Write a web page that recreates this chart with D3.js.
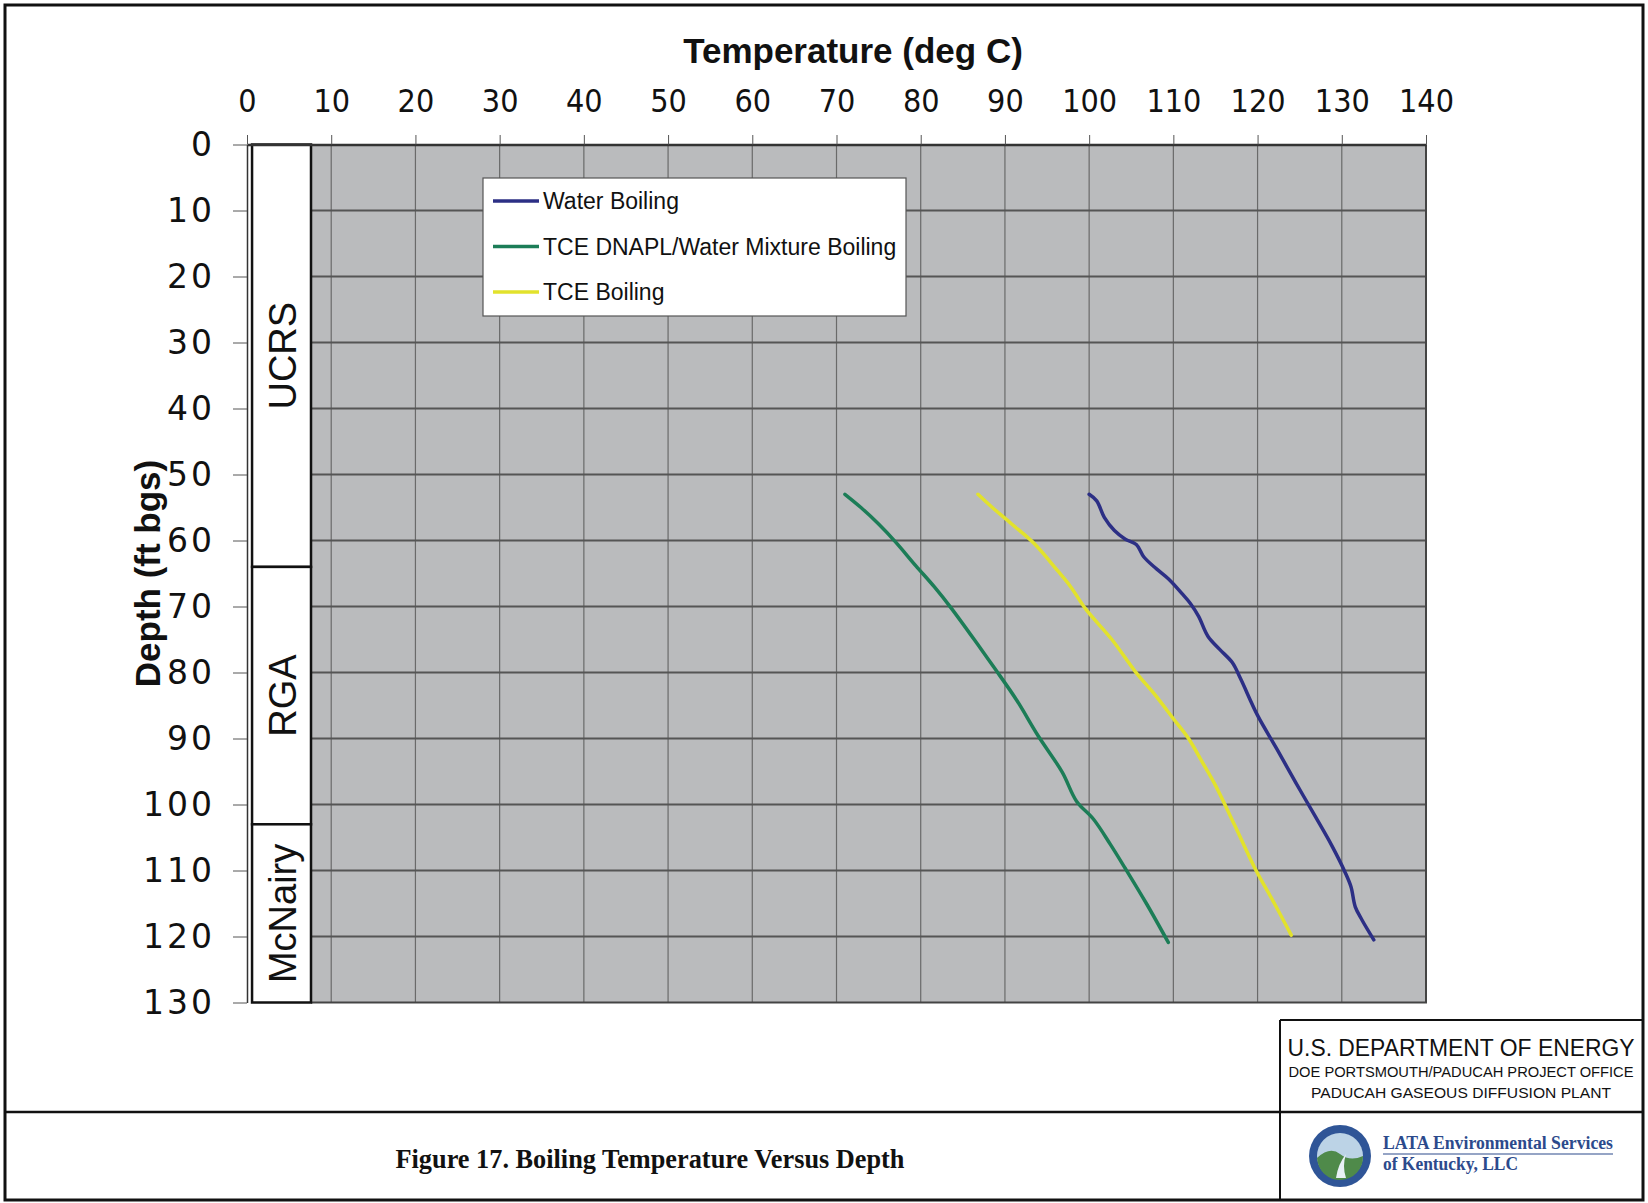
<!DOCTYPE html>
<html>
<head>
<meta charset="utf-8">
<script src="https://cdn.jsdelivr.net/npm/d3@7"></script>
<style>
  body { margin: 0; background: #fff; }
  svg { display: block; font-family: "Liberation Sans", Arial, sans-serif; }
</style>
</head>
<body>
<svg id="chart"></svg>
<script>
// ---- data ----
var tempTicks = [0, 10, 20, 30, 40, 50, 60, 70, 80, 90, 100, 110, 120, 130, 140];
var depthTicks = [0, 10, 20, 30, 40, 50, 60, 70, 80, 90, 100, 110, 120, 130];

var seriesNames = ["Water Boiling", "TCE DNAPL/Water Mixture Boiling", "TCE Boiling"];
var seriesColors = ["#2c2f85", "#1c7d57", "#e2e22c"];

// [temperature degC, depth ft bgs]
var waterBoiling = [[100.0,53],[100.9,54],[101.8,56.5],[103.0,58.5],[104.3,59.8],[105.6,60.6],
  [106.5,62.5],[108.0,64.3],[109.4,65.8],[111.0,68],[112.0,69.5],[113.0,71.5],[114.1,74.5],
  [115.5,76.5],[117.0,78.5],[118.0,81],[120.0,86.5],[122.3,91.6],[124.5,96.6],[126.8,101.7],
  [128.8,106.2],[130.4,110.3],[131.1,112.5],[131.6,115.5],[132.4,117.5],[133.8,120.5]];
var mixtureBoiling = [[71.0,53],[72.9,55],[75.0,57.5],[77.0,60.2],[79.4,63.8],[81.6,67],[83.6,70.2],
  [86.8,75.8],[88.8,79.4],[91.4,84.2],[93.9,89.5],[96.8,95.1],[98.5,99.5],[100.5,102.2],
  [102.5,106],[104.3,109.7],[106.8,115],[109.4,120.9]];
var tceBoiling = [[86.8,53],[88.5,55],[90.8,57.5],[93.5,60.5],[96.2,64.5],[97.8,67],[99.6,70.4],
  [102.7,75],[105.5,79.9],[107.9,83.5],[110.0,87],[111.8,90],[113.4,93.5],[115.0,97.1],
  [117.3,103.2],[119.7,109.7],[122.0,115],[124.0,119.8]];

var strataNames = ["UCRS", "RGA", "McNairy"];
var strataTop = [0, 64, 103];
var strataBottom = [64, 103, 130];

// ---- layout ----
var W = 1648, H = 1203;
var margin = {top: 144.5, left: 247}
  , width = 1179
  , height = 858;
var strataColumn = [0.6, 7.6];   // temperature units covered by the strata column

var svg = d3.select("#chart").attr("width", W).attr("height", H);
svg.append("rect").attr("width", W).attr("height", H).attr("fill", "#fff");

var xScale = d3.scaleLinear().domain([0, 140]).range([0, width]);
var yScale = d3.scaleLinear().domain([0, 130]).range([0, height]);

var g = svg.append("g")
    .attr("transform", "translate(" + margin.left + "," + margin.top + ")");

// plot background
g.append("rect")
    .attr("x", xScale(strataColumn[1])).attr("y", 0)
    .attr("width", width - xScale(strataColumn[1])).attr("height", height)
    .attr("fill", "#babbbd");

// grid
g.selectAll(".vgrid").data(tempTicks.filter(function(d){ return d > 0 && d < 140; }))
  .enter().append("line").attr("class", "vgrid")
    .attr("x1", function(d){ return xScale(d); }).attr("x2", function(d){ return xScale(d); })
    .attr("y1", 0).attr("y2", height)
    .attr("stroke", "#6a6a6a").attr("stroke-width", 1.2);
g.selectAll(".hgrid").data(depthTicks.filter(function(d){ return d > 0 && d < 130; }))
  .enter().append("line").attr("class", "hgrid")
    .attr("x1", xScale(strataColumn[1])).attr("x2", width)
    .attr("y1", function(d){ return yScale(d); }).attr("y2", function(d){ return yScale(d); })
    .attr("stroke", "#555").attr("stroke-width", 2);

// plot border right/bottom
g.append("path")
    .attr("d", "M" + xScale(strataColumn[1]) + "," + height + "H" + width + "V0")
    .attr("fill", "none").attr("stroke", "#444").attr("stroke-width", 2);

// strata column
g.append("rect")
    .attr("x", 0).attr("y", 0)
    .attr("width", xScale(strataColumn[1])).attr("height", height)
    .attr("fill", "#fff");
var strata = g.selectAll(".stratum").data(strataNames).enter().append("g").attr("class", "stratum");
strata.append("rect")
    .attr("x", xScale(strataColumn[0]))
    .attr("y", function(d, i){ return yScale(strataTop[i]); })
    .attr("width", xScale(strataColumn[1]) - xScale(strataColumn[0]))
    .attr("height", function(d, i){ return yScale(strataBottom[i]) - yScale(strataTop[i]); })
    .attr("fill", "#fff").attr("stroke", "#111").attr("stroke-width", 2.5);
strata.append("text")
    .attr("transform", function(d, i){
        var cx = (xScale(strataColumn[0]) + xScale(strataColumn[1])) / 2 + 14;
        var cy = (yScale(strataTop[i]) + yScale(strataBottom[i])) / 2;
        return "translate(" + cx + "," + cy + ") rotate(-90)";
    })
    .attr("text-anchor", "middle")
    .style("font-size", "38px")
    .attr("fill", "#111")
    .text(function(d){ return d; });

// axes
var xAxis = g.append("g").attr("class", "x axis")
    .call(d3.axisTop(xScale).tickValues(tempTicks).tickSize(9.5).tickSizeOuter(0).tickPadding(23));
xAxis.select(".domain").attr("stroke", "#333").attr("stroke-width", 2.5);
xAxis.selectAll(".tick line").attr("stroke", "#555");
xAxis.selectAll("text")
    .style("font-family", "'Liberation Sans Narrow', 'DejaVu Sans Condensed', 'Liberation Sans', sans-serif")
    .style("font-size", "32px").attr("fill", "#111");

var yAxis = g.append("g").attr("class", "y axis")
    .call(d3.axisLeft(yScale).tickValues(depthTicks).tickSize(14).tickSizeOuter(0).tickPadding(18));
yAxis.select(".domain").attr("stroke", "#333").attr("stroke-width", 1.5);
yAxis.selectAll(".tick line").attr("stroke", "#555");
yAxis.selectAll("text")
    .style("font-family", "'DejaVu Sans', Verdana, sans-serif")
    .style("font-size", "33px").style("letter-spacing", "3px").attr("fill", "#111");

// series
var line = d3.line()
    .x(function(d){ return xScale(d[0]); })
    .y(function(d){ return yScale(d[1]); })
    .curve(d3.curveCatmullRom.alpha(0.5));
var allSeries = [waterBoiling, mixtureBoiling, tceBoiling];
g.selectAll(".series").data(allSeries).enter().append("path")
    .attr("class", "series")
    .attr("d", line)
    .attr("fill", "none")
    .attr("stroke", function(d, i){ return seriesColors[i]; })
    .attr("stroke-width", 3.5)
    .attr("stroke-linecap", "round")
    .attr("stroke-linejoin", "round");

// axis titles
svg.append("text")
    .attr("x", 853).attr("y", 63)
    .attr("text-anchor", "middle")
    .style("font-size", "35px").style("font-weight", "bold").attr("fill", "#111")
    .text("Temperature (deg C)");
svg.append("text")
    .attr("transform", "translate(160," + (margin.top + yScale(65)) + ") rotate(-90)")
    .attr("text-anchor", "middle")
    .style("font-size", "35px").style("font-weight", "bold").attr("fill", "#111")
    .text("Depth (ft bgs)");

// legend
var legend = svg.append("g").attr("transform", "translate(483,178)");
legend.append("rect").attr("width", 423).attr("height", 138)
    .attr("fill", "#fff").attr("stroke", "#555").attr("stroke-width", 1.2);
var items = legend.selectAll(".item").data(seriesNames).enter().append("g")
    .attr("transform", function(d, i){ return "translate(10," + (23 + i * 45.5) + ")"; });
items.append("line").attr("x1", 0).attr("x2", 46)
    .attr("stroke", function(d, i){ return seriesColors[i]; }).attr("stroke-width", 3.5);
items.append("text").attr("x", 50).attr("dy", "0.35em")
    .style("font-size", "23px").attr("fill", "#111")
    .text(function(d){ return d; });

// frame and title block
var frame = svg.append("g").attr("fill", "none").attr("stroke", "#111");
frame.append("rect").attr("x", 5).attr("y", 5).attr("width", 1638).attr("height", 1195).attr("stroke-width", 3);
frame.append("line").attr("x1", 5).attr("x2", 1643).attr("y1", 1112).attr("y2", 1112).attr("stroke-width", 2.5);
frame.append("line").attr("x1", 1280).attr("x2", 1643).attr("y1", 1020).attr("y2", 1020).attr("stroke-width", 2);
frame.append("line").attr("x1", 1280).attr("x2", 1280).attr("y1", 1020).attr("y2", 1200).attr("stroke-width", 2);

svg.append("text")
    .attr("x", 650).attr("y", 1168).attr("text-anchor", "middle")
    .attr("textLength", 509).attr("lengthAdjust", "spacingAndGlyphs")
    .style("font-family", "'Liberation Serif', 'Times New Roman', serif")
    .style("font-size", "27px").style("font-weight", "bold").attr("fill", "#111")
    .text("Figure 17. Boiling Temperature Versus Depth");

var doe = svg.append("g").attr("text-anchor", "middle").attr("fill", "#111");
doe.append("text").attr("x", 1461).attr("y", 1056)
    .attr("textLength", 347).attr("lengthAdjust", "spacingAndGlyphs")
    .style("font-size", "23px").text("U.S. DEPARTMENT OF ENERGY");
doe.append("text").attr("x", 1461).attr("y", 1077)
    .attr("textLength", 345).attr("lengthAdjust", "spacingAndGlyphs")
    .style("font-size", "15.5px").text("DOE PORTSMOUTH/PADUCAH PROJECT OFFICE");
doe.append("text").attr("x", 1461).attr("y", 1098)
    .attr("textLength", 300).attr("lengthAdjust", "spacingAndGlyphs")
    .style("font-size", "15.5px").text("PADUCAH GASEOUS DIFFUSION PLANT");

// contractor logo (simplified seal)
var seal = svg.append("g").attr("transform", "translate(1340,1156)");
seal.append("circle").attr("r", 31).attr("fill", "#2f5597");
seal.append("circle").attr("r", 23).attr("fill", "#bcd3e6");
seal.append("path").attr("d", "M-23,2 Q-10,-10 0,-2 T23,0 A23,23 0 0 1 -23,2Z").attr("fill", "#4f8a4a");
seal.append("path").attr("d", "M-4,22 Q-2,8 6,-2 Q2,10 6,22Z").attr("fill", "#e8f0f6");
svg.append("text").attr("x", 1383).attr("y", 1149)
    .attr("textLength", 230).attr("lengthAdjust", "spacingAndGlyphs")
    .style("font-family", "'Liberation Serif', 'Times New Roman', serif")
    .style("font-size", "18px").style("font-weight", "bold").attr("fill", "#2c4a8c")
    .text("LATA Environmental Services");
svg.append("line").attr("x1", 1383).attr("x2", 1613).attr("y1", 1154).attr("y2", 1154)
    .attr("stroke", "#2c4a8c").attr("stroke-width", 1.2);
svg.append("text").attr("x", 1383).attr("y", 1170)
    .attr("textLength", 135).attr("lengthAdjust", "spacingAndGlyphs")
    .style("font-family", "'Liberation Serif', 'Times New Roman', serif")
    .style("font-size", "18px").style("font-weight", "bold").attr("fill", "#2c4a8c")
    .text("of Kentucky, LLC");
</script>
</body>
</html>
